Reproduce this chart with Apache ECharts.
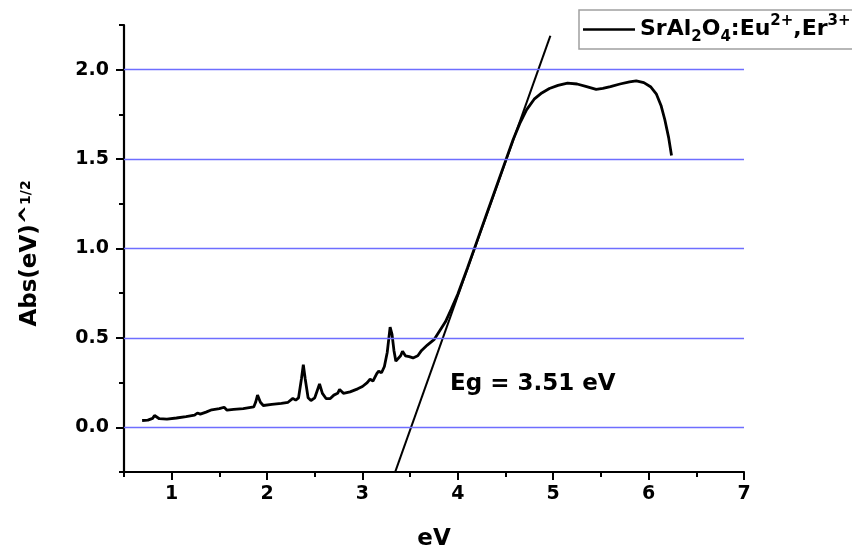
<!DOCTYPE html>
<html>
<head>
<meta charset="utf-8">
<script src="https://cdn.jsdelivr.net/npm/echarts@6/dist/echarts.min.js"></script>
<style>
  html, body { margin: 0; padding: 0; background: #fff; }
  #chart { width: 852px; height: 550px; }
</style>
</head>
<body>
<div id="chart"></div>
<script>
// Tauc plot of SrAl2O4:Eu2+,Er3+ : photon energy (eV) vs (Abs·E)^1/2
const energy = [
  0.69, 0.75, 0.80, 0.82, 0.84, 0.87, 0.95, 1.05, 1.15, 1.24,
  1.27, 1.30, 1.36, 1.42, 1.50, 1.55, 1.58, 1.65, 1.75, 1.86,
  1.88, 1.90, 1.93, 1.96, 2.05, 2.15, 2.22, 2.27, 2.30, 2.33,
  2.36, 2.38, 2.40, 2.43, 2.46, 2.50, 2.55, 2.58, 2.62, 2.66,
  2.70, 2.74, 2.76, 2.80, 2.87, 2.95, 3.00, 3.05, 3.08, 3.11,
  3.15, 3.17, 3.20, 3.23, 3.26, 3.29, 3.31, 3.33, 3.35, 3.37,
  3.40, 3.42, 3.45, 3.49, 3.53, 3.58, 3.62, 3.68, 3.75, 3.81,
  3.87, 3.93, 4.00, 4.10, 4.20, 4.30, 4.40, 4.50, 4.58, 4.65,
  4.72, 4.80, 4.88, 4.96, 5.05, 5.15, 5.25, 5.35, 5.45, 5.52,
  5.60, 5.70, 5.80, 5.87, 5.95, 6.02, 6.08, 6.13, 6.17, 6.21,
  6.24
];
const absorbance = [
  0.038, 0.040, 0.050, 0.066, 0.060, 0.048, 0.046, 0.052, 0.060, 0.068,
  0.080, 0.074, 0.085, 0.098, 0.104, 0.112, 0.096, 0.100, 0.105, 0.114,
  0.140, 0.180, 0.140, 0.122, 0.128, 0.134, 0.140, 0.162, 0.152, 0.165,
  0.270, 0.350, 0.270, 0.165, 0.150, 0.165, 0.242, 0.190, 0.160, 0.160,
  0.180, 0.190, 0.212, 0.190, 0.198, 0.215, 0.228, 0.250, 0.270, 0.258,
  0.300, 0.314, 0.305, 0.340, 0.420, 0.560, 0.520, 0.430, 0.370, 0.365,
  0.400, 0.425, 0.400, 0.395, 0.388, 0.400, 0.430, 0.460, 0.490, 0.540,
  0.590, 0.660, 0.745, 0.890, 1.040, 1.190, 1.340, 1.490, 1.610, 1.700,
  1.775, 1.835, 1.870, 1.895, 1.912, 1.925, 1.920, 1.905, 1.890, 1.895,
  1.905, 1.920, 1.932, 1.937, 1.928, 1.905, 1.865, 1.800, 1.720, 1.620,
  1.520
];

// Linear extrapolation of the absorption edge; it meets zero at the band gap
const bandGap = 3.51;
const tangentX = [3.343, 4.970];
const tangentY = [-0.25, 2.19];

const seriesName = 'SrAl2O4:Eu2+,Er3+';
const xMajorTicks = [1, 2, 3, 4, 5, 6, 7];
const xMinorTicks = [0.5, 1.5, 2.5, 3.5, 4.5, 5.5, 6.5];
const yMajorTicks = [0, 0.5, 1, 1.5, 2];
const yMinorTicks = [-0.25, 0.25, 0.75, 1.25, 1.75, 2.25];

const FONT = 'DejaVu Sans';
const bold = (size, extra) => Object.assign({
  fontFamily: FONT, fontWeight: 'bold', fontSize: size, color: '#000'
}, extra || {});

const spectrum = energy.map((e, i) => [e, absorbance[i]]);
const tangent = tangentX.map((x, i) => [x, tangentY[i]]);

const axisLineStyle = { color: '#000', width: 2.2 };
const tickStyle = { color: '#000', width: 2 };

const chart = echarts.init(document.getElementById('chart'), null, { renderer: 'canvas' });
chart.setOption({
  animation: false,
  backgroundColor: '#fff',
  grid: { left: 124, right: 108, top: 25, bottom: 78, outerBoundsMode: 'none', containLabel: false },
  legend: {
    data: [{ name: seriesName, icon: 'rect' }],
    left: 579,
    top: 10,
    padding: [4, 14, 4, 4],
    itemWidth: 52,
    itemHeight: 2.5,
    borderColor: '#a0a0a0',
    borderWidth: 1.5,
    backgroundColor: '#fff',
    selectedMode: false,
    formatter: () => 'SrAl{sub|2}O{sub|4}:Eu{sup|2+},Er{sup|3+}',
    textStyle: bold(22, {
      lineHeight: 31,
      rich: {
        sub: bold(15, { verticalAlign: 'bottom', lineHeight: 15 }),
        sup: bold(15, { verticalAlign: 'top', lineHeight: 15 })
      }
    })
  },
  xAxis: [
    {
      type: 'value', min: 0.5, max: 7, interval: 0.5, position: 'bottom',
      axisLine: { show: true, onZero: false, lineStyle: axisLineStyle },
      axisTick: { show: true, customValues: xMajorTicks, length: 8, lineStyle: tickStyle },
      axisLabel: Object.assign(bold(19), { customValues: xMajorTicks, margin: 13 }),
      splitLine: { show: false },
      name: 'eV', nameLocation: 'middle', nameGap: 56,
      nameTextStyle: bold(23)
    },
    {
      type: 'value', min: 0.5, max: 7, interval: 0.5, position: 'bottom',
      axisLine: { show: false, onZero: false },
      axisTick: { show: true, customValues: xMinorTicks, length: 5, lineStyle: tickStyle },
      axisLabel: { show: false },
      splitLine: { show: false }
    }
  ],
  yAxis: [
    {
      type: 'value', min: -0.25, max: 2.25, interval: 0.25, position: 'left',
      axisLine: { show: true, onZero: false, lineStyle: axisLineStyle },
      axisTick: { show: true, customValues: yMajorTicks, length: 8, lineStyle: tickStyle },
      axisLabel: Object.assign(bold(19), {
        customValues: yMajorTicks, margin: 15,
        formatter: v => v.toFixed(1)
      }),
      splitLine: { show: false },
      name: 'Abs(eV)^{sup|1/2}', nameLocation: 'middle', nameGap: 82,
      nameTextStyle: bold(23, {
        padding: [0, 10, 0, 0],
        rich: { sup: bold(14, { verticalAlign: 'top', lineHeight: 14 }) }
      })
    },
    {
      type: 'value', min: -0.25, max: 2.25, interval: 0.25, position: 'left',
      axisLine: { show: false, onZero: false },
      axisTick: { show: true, customValues: yMinorTicks, length: 5, lineStyle: tickStyle },
      axisLabel: { show: false },
      splitLine: { show: false }
    }
  ],
  graphic: [
    {
      type: 'text', left: 450, top: 373,
      style: { text: 'Eg = ' + bandGap.toFixed(2) + ' eV', font: 'bold 23px "' + FONT + '"', fill: '#000' }
    }
  ],
  series: [
    {
      // horizontal reference lines at the labelled ordinates
      name: 'grid', type: 'line', xAxisIndex: 0, yAxisIndex: 0,
      data: [], z: 1, silent: true,
      markLine: {
        silent: true, symbol: ['none', 'none'], animation: false,
        label: { show: false },
        emphasis: { disabled: true },
        lineStyle: { color: '#6e6eff', width: 1.3, type: 'solid' },
        data: yMajorTicks.map(v => ({ yAxis: v }))
      }
    },
    {
      name: 'tangent', type: 'line', xAxisIndex: 0, yAxisIndex: 0,
      data: tangent, symbol: 'none', showSymbol: false, z: 3,
      lineStyle: { color: '#000', width: 2.1 }
    },
    {
      name: seriesName, type: 'line', xAxisIndex: 0, yAxisIndex: 0,
      data: spectrum, symbol: 'none', showSymbol: false, z: 4,
      lineStyle: { color: '#000', width: 2.8 }, itemStyle: { color: '#000' }
    }
  ]
});
</script>
</body>
</html>
